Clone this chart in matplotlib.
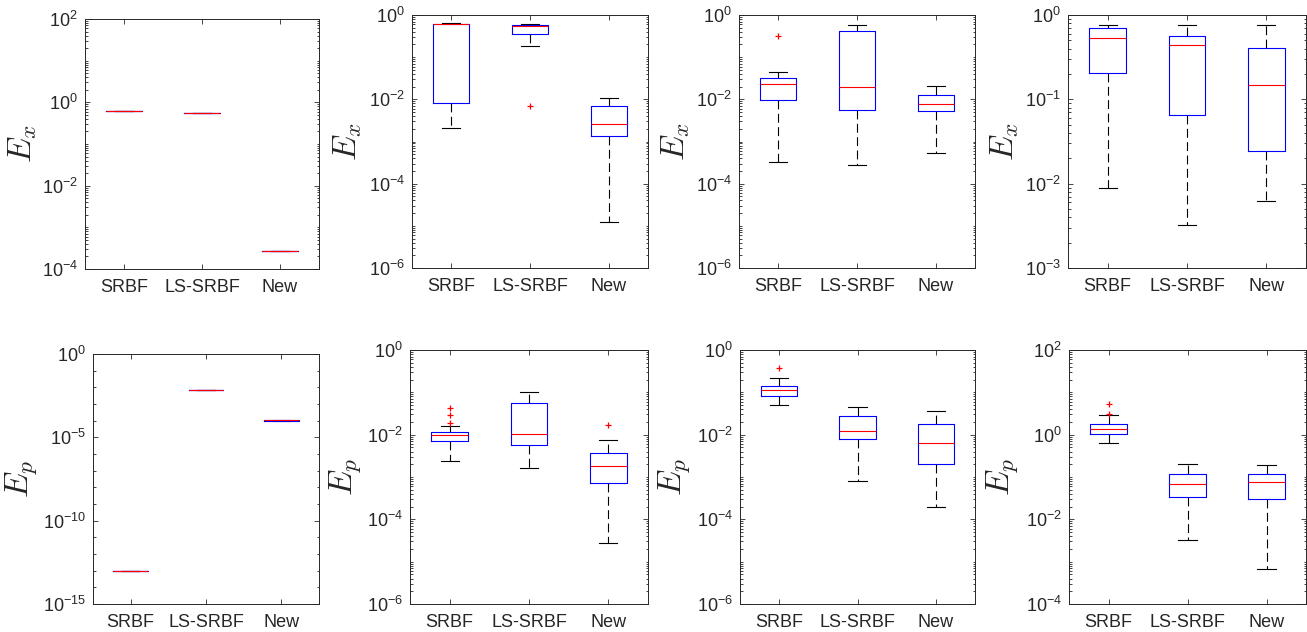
import numpy as np
import matplotlib
matplotlib.use('Agg')
import matplotlib.pyplot as plt
from matplotlib.ticker import LogLocator, FixedLocator, NullFormatter, LogFormatterSciNotation

plt.rcParams['font.family'] = ['Liberation Sans', 'DejaVu Sans']
plt.rcParams['mathtext.fontset'] = 'cm'

methods = ['SRBF', 'LS-SRBF', 'New']

# ---------------- Top row: E_x ----------------
ex1_lo = [0.62, 0.55, 2.66e-4]
ex1_q1 = [0.62, 0.55, 2.66e-4]
ex1_med = [0.62, 0.56, 2.66e-4]
ex1_q3 = [0.62, 0.57, 2.66e-4]
ex1_hi = [0.62, 0.57, 2.66e-4]
ex1_fliers = [[], [], []]

ex2_lo = [2.1e-3, 0.188, 1.23e-5]
ex2_q1 = [8.1e-3, 0.36, 1.36e-3]
ex2_med = [0.60, 0.55, 2.63e-3]
ex2_q3 = [0.61, 0.59, 6.9e-3]
ex2_hi = [0.63, 0.62, 0.0106]
ex2_fliers = [[], [6.9e-3], []]

ex3_lo = [3.25e-4, 2.8e-4, 5.2e-4]
ex3_q1 = [9.4e-3, 5.6e-3, 5.2e-3]
ex3_med = [0.0228, 0.0194, 7.9e-3]
ex3_q3 = [0.0328, 0.418, 0.013]
ex3_hi = [0.0447, 0.569, 0.0212]
ex3_fliers = [[0.318], [], []]

ex4_lo = [8.85e-3, 3.23e-3, 6.15e-3]
ex4_q1 = [0.207, 0.0648, 0.0247]
ex4_med = [0.534, 0.437, 0.148]
ex4_q3 = [0.702, 0.559, 0.407]
ex4_hi = [0.755, 0.755, 0.755]
ex4_fliers = [[], [], []]

# ---------------- Bottom row: E_p ----------------
ep1_lo = [9.6e-14, 6.9e-3, 1.01e-4]
ep1_q1 = [9.6e-14, 6.9e-3, 1.01e-4]
ep1_med = [9.6e-14, 6.9e-3, 1.03e-4]
ep1_q3 = [9.6e-14, 6.9e-3, 1.05e-4]
ep1_hi = [9.6e-14, 6.9e-3, 1.05e-4]
ep1_fliers = [[], [], []]

ep2_lo = [2.39e-3, 1.6e-3, 2.71e-5]
ep2_q1 = [7.2e-3, 5.8e-3, 7.3e-4]
ep2_med = [9.66e-3, 0.0102, 1.82e-3]
ep2_q3 = [0.01175, 0.055, 3.7e-3]
ep2_hi = [0.0158, 0.1, 7.5e-3]
ep2_fliers = [[0.0427, 0.0291, 0.0189], [], [0.0169]]

ep3_lo = [0.051, 7.9e-4, 1.99e-4]
ep3_q1 = [0.0832, 7.9e-3, 1.99e-3]
ep3_med = [0.1135, 0.012, 6.24e-3]
ep3_q3 = [0.141, 0.0281, 0.01786]
ep3_hi = [0.222, 0.0442, 0.0356]
ep3_fliers = [[0.37], [], []]

ep4_lo = [0.646, 3.19e-3, 6.7e-4]
ep4_q1 = [1.05, 0.0343, 0.0308]
ep4_med = [1.36, 0.0696, 0.0776]
ep4_q3 = [1.81, 0.118, 0.1156]
ep4_hi = [2.96, 0.2065, 0.192]
ep4_fliers = [[5.2, 3.13], [], []]

W, H = 1307, 632
fig = plt.figure(figsize=(W / 100, H / 100), dpi=100)

# panel boxes in pixels: (x0, x1, ytop, ybottom)
boxes = [(85, 319, 19, 269), (412, 648, 15, 268), (739, 975, 15, 268), (1068, 1306, 15, 268),
         (93, 319, 354, 604), (410, 648, 350, 604), (740, 975, 350, 604), (1069, 1306, 350, 604)]
label_x = [39, 364, 692, 1021, 39, 363, 692, 1020]

panels = [
    (ex1_lo, ex1_q1, ex1_med, ex1_q3, ex1_hi, ex1_fliers, (1e-4, 1e2), [1e-4, 1e-2, 1e0, 1e2], r'$E_x$', False),
    (ex2_lo, ex2_q1, ex2_med, ex2_q3, ex2_hi, ex2_fliers, (1e-6, 1e0), [1e-6, 1e-4, 1e-2, 1e0], r'$E_x$', False),
    (ex3_lo, ex3_q1, ex3_med, ex3_q3, ex3_hi, ex3_fliers, (1e-6, 1e0), [1e-6, 1e-4, 1e-2, 1e0], r'$E_x$', False),
    (ex4_lo, ex4_q1, ex4_med, ex4_q3, ex4_hi, ex4_fliers, (1e-3, 1e0), [1e-3, 1e-2, 1e-1, 1e0], r'$E_x$', False),
    (ep1_lo, ep1_q1, ep1_med, ep1_q3, ep1_hi, ep1_fliers, (1e-15, 1e0), [1e-15, 1e-10, 1e-5, 1e0], r'$E_p$', True),
    (ep2_lo, ep2_q1, ep2_med, ep2_q3, ep2_hi, ep2_fliers, (1e-6, 1e0), [1e-6, 1e-4, 1e-2, 1e0], r'$E_p$', False),
    (ep3_lo, ep3_q1, ep3_med, ep3_q3, ep3_hi, ep3_fliers, (1e-6, 1e0), [1e-6, 1e-4, 1e-2, 1e0], r'$E_p$', False),
    (ep4_lo, ep4_q1, ep4_med, ep4_q3, ep4_hi, ep4_fliers, (1e-4, 1e2), [1e-4, 1e-2, 1e0, 1e2], r'$E_p$', False),
]

axcol = '#262626'
for (x0, x1, yt, yb), lx, (lo, q1, med, q3, hi, fl, ylim, majors, ylab, decade_minor) in zip(boxes, label_x, panels):
    ax = fig.add_axes([x0 / W, 1 - yb / H, (x1 - x0) / W, (yb - yt) / H])
    stats = []
    for i, name in enumerate(methods):
        stats.append(dict(label=name, whislo=lo[i], q1=q1[i], med=med[i], q3=q3[i],
                          whishi=hi[i], fliers=fl[i]))
    ax.bxp(stats, positions=[1, 2, 3], widths=0.46, capwidths=0.23, showfliers=True,
           boxprops=dict(color='blue', lw=0.8, zorder=2.5),
           medianprops=dict(color='red', lw=0.8, zorder=3),
           whiskerprops=dict(color='black', lw=0.8, linestyle=(0, (8, 4)), zorder=2),
           capprops=dict(color='black', lw=0.8, zorder=2),
           flierprops=dict(marker='+', markeredgecolor='red', markerfacecolor='none',
                           markersize=5, markeredgewidth=0.9, linestyle='none'))
    ax.set_yscale('log')
    ax.set_ylim(*ylim)
    ax.set_xlim(0.5, 3.5)
    ax.set_xticks([1, 2, 3])
    ax.set_xticklabels(methods)
    ax.yaxis.set_major_locator(FixedLocator(majors))
    ax.yaxis.set_major_formatter(LogFormatterSciNotation())
    if decade_minor:
        ax.yaxis.set_minor_locator(LogLocator(base=10, subs=(1.0,), numticks=100))
    else:
        ax.yaxis.set_minor_locator(LogLocator(base=10, subs=np.arange(1, 10), numticks=100))
    ax.yaxis.set_minor_formatter(NullFormatter())
    ax.tick_params(which='both', direction='in', top=True, right=True, colors=axcol,
                   labelsize=13, width=0.6)
    ax.tick_params(which='major', length=3.5)
    ax.tick_params(which='minor', length=1.8)
    ax.tick_params(axis='y', pad=5)
    ax.tick_params(axis='x', pad=7)
    for s in ax.spines.values():
        s.set_color(axcol)
        s.set_linewidth(0.7)
    ax.set_ylabel(ylab, fontsize=24, color=axcol)
    ax.yaxis.set_label_coords((lx - x0) / (x1 - x0), 0.5)

fig.savefig('out.png', dpi=100)
